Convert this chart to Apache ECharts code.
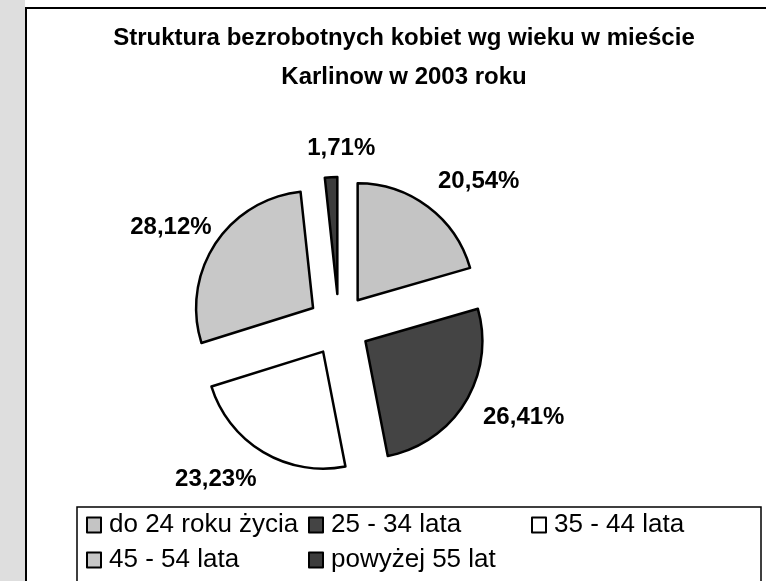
<!DOCTYPE html>
<html>
<head>
<meta charset="utf-8">
<script src="https://cdn.jsdelivr.net/npm/echarts@6/dist/echarts.min.js"></script>
<style>
  html, body { margin: 0; padding: 0; background: #fff; }
  #chart { width: 766px; height: 581px; }
</style>
</head>
<body>
<div id="chart"></div>
<script>
// Age groups and their share (%) of unemployed women
const categories = ["do 24 roku życia", "25 - 34 lata", "35 - 44 lata", "45 - 54 lata", "powyżej 55 lat"];
const shares = [20.54, 26.41, 23.23, 28.12, 1.71];

// Grey-scale fills that stand in for the print hatching
const fills = ["#c4c4c4", "#444444", "#ffffff", "#c8c8c8", "#3c3c3c"];
// Small nudges so the % labels sit where the original put them
const labelNudge = [[-4, -13], [0, 7], [6, 14], [14, -8], [50, -14]];

const FONT = "'Liberation Sans', Arial, sans-serif";

const chart = echarts.init(document.getElementById("chart"));

const pieData = categories.map((name, i) => ({
  name: name,
  value: shares[i],
  selected: true,
  itemStyle: { color: fills[i] },
}));

const legendBase = {
  orient: "vertical",
  top: 512,
  itemGap: 9,
  itemWidth: 14,
  itemHeight: 15,
  padding: 0,
  icon: "rect",
  selectedMode: false,
  itemStyle: { borderColor: "#000", borderWidth: 2 },
  textStyle: { fontFamily: FONT, fontSize: 26, color: "#000", padding: [0, 0, 0, 3] },
};

const option = {
  animation: false,
  backgroundColor: "#fff",
  title: {
    text: "Struktura bezrobotnych kobiet wg wieku w mieście\nKarlinow w 2003 roku",
    left: 404,
    top: 19,
    textAlign: "center",
    padding: 0,
    textStyle: {
      fontFamily: FONT,
      fontSize: 24,
      fontWeight: "bold",
      color: "#000",
      lineHeight: 39,
    },
  },
  legend: [
    Object.assign({}, legendBase, { left: 86, data: [categories[0], categories[3]] }),
    Object.assign({}, legendBase, { left: 308, data: [categories[1], categories[4]] }),
    Object.assign({}, legendBase, { left: 531, data: [categories[2]] }),
  ],
  graphic: [
    // scanner margin on the left
    { type: "rect", silent: true, z: -10, shape: { x: 0, y: 0, width: 25, height: 581 }, style: { fill: "#dedede" } },
    // chart frame
    { type: "polyline", silent: true, shape: { points: [[26, 581], [26, 8], [766, 8]] }, style: { stroke: "#000", lineWidth: 2, fill: null } },
    // legend box
    { type: "rect", silent: true, shape: { x: 77, y: 507, width: 684, height: 80 }, style: { stroke: "#000", lineWidth: 1.5, fill: null } },
  ],
  series: [
    {
      type: "pie",
      center: [339, 325],
      radius: 117,
      startAngle: 90,
      clockwise: true,
      selectedMode: "multiple",
      selectedOffset: 31,
      avoidLabelOverlap: false,
      itemStyle: { borderColor: "#000", borderWidth: 2.5 },
      emphasis: { disabled: true },
      label: {
        show: true,
        position: "outside",
        fontFamily: FONT,
        fontSize: 24,
        fontWeight: "bold",
        color: "#000",
        formatter: (p) => shares[p.dataIndex].toFixed(2).replace(".", ",") + "%",
      },
      labelLine: { show: false, length: 15, length2: 0 },
      labelLayout: (p) => ({ dx: labelNudge[p.dataIndex][0], dy: labelNudge[p.dataIndex][1] }),
      data: pieData,
    },
  ],
};

chart.setOption(option);
</script>
</body>
</html>
